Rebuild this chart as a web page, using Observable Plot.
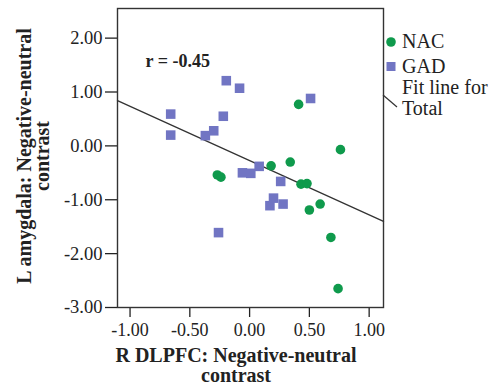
<!DOCTYPE html>
<html>
<head>
<meta charset="utf-8">
<script src="https://cdn.jsdelivr.net/npm/d3@7"></script>
<script src="https://cdn.jsdelivr.net/npm/@observablehq/plot@0.6"></script>
<style>
  html, body { margin: 0; padding: 0; background: white; }
  #chart { width: 498px; height: 390px; }
  #chart svg text { font-family: 'Liberation Serif', 'Times New Roman', serif; }
</style>
</head>
<body>
<div id="chart"></div>
<script>
// ---- Data ----
const nacX = [0.41, 0.76, 0.34, 0.18, -0.27, -0.24, 0.43, 0.48, 0.50, 0.59, 0.68, 0.74];
const nacY = [0.77, -0.07, -0.30, -0.37, -0.54, -0.58, -0.71, -0.70, -1.19, -1.08, -1.70, -2.65];
const gadX = [-0.195, -0.084, -0.66, -0.66, -0.22, -0.30, -0.37, 0.51, -0.06, 0.01, 0.08, 0.26, 0.17, 0.20, 0.28, -0.26];
const gadY = [1.21, 1.07, 0.59, 0.20, 0.55, 0.28, 0.19, 0.88, -0.50, -0.51, -0.38, -0.66, -1.11, -0.97, -1.08, -1.61];
const xTicks = [-1, -0.5, 0, 0.5, 1];
const yTicks = [-3, -2, -1, 0, 1, 2];
const groups = ["NAC", "GAD"];
const rLabel = "r = -0.45";
const xTitle = ["R DLPFC: Negative-neutral", "contrast"];
const yTitle = ["L amygdala: Negative-neutral", "contrast"];
const fitLabel = ["Fit line for", "Total"];

const nac = nacX.map((x, i) => ({x, y: nacY[i], g: "NAC"}));
const gad = gadX.map((x, i) => ({x, y: gadY[i], g: "GAD"}));
const all = nac.concat(gad);

// least-squares fit for Total
const mx = d3.mean(all, d => d.x), my = d3.mean(all, d => d.y);
const slope = d3.sum(all, d => (d.x - mx) * (d.y - my)) / d3.sum(all, d => (d.x - mx) ** 2);
const intercept = my - slope * mx;
const xDomain = [-1.105, 1.12];
const fit = xDomain.map(x => ({x, y: intercept + slope * x}));

const green = "#0f9a4c", blue = "#7175c3", ink = "#222";
const font = "'Liberation Serif', 'Times New Roman', serif";
const W = 498, H = 390, mL = 117, mR = 115, mT = 8, mB = 83;

const chart = Plot.plot({
  width: W, height: H,
  marginLeft: mL, marginRight: mR, marginTop: mT, marginBottom: mB,
  style: {fontFamily: font, fontSize: "18px", color: ink, background: "white"},
  x: {domain: xDomain, label: null},
  y: {domain: [-3, 2.55], label: null},
  marks: [
    Plot.axisX({ticks: xTicks, tickSize: 10, tickPadding: 6, tickFormat: d => d.toFixed(2), label: null,
      fontSize: 18, fontFamily: font, stroke: ink, strokeWidth: 1.3}),
    Plot.axisY({ticks: yTicks, tickSize: 12, tickPadding: 3, tickFormat: d => d.toFixed(2), label: null,
      fontSize: 18.5, fontFamily: font, stroke: ink, strokeWidth: 1.3}),
    Plot.frame({stroke: "#333", strokeWidth: 1.4}),
    Plot.line(fit, {x: "x", y: "y", stroke: "#333", strokeWidth: 1.3}),
    Plot.dot(gad, {x: "x", y: "y", symbol: "square", r: 5.4, fill: blue, stroke: "none"}),
    Plot.dot(nac, {x: "x", y: "y", symbol: "circle", r: 4.8, fill: green, stroke: "none"}),
    Plot.text([rLabel], {frameAnchor: "top-left", dx: 28, dy: 58, text: d => d, textAnchor: "start",
      lineAnchor: "bottom", fontSize: 18, fontWeight: "bold", fill: ink, fontFamily: font})
  ]
});

const svg = d3.select(chart);
const fx = W - mR;
const g = svg.append("g").attr("font-family", font).attr("fill", ink);

// axis titles
const xt = g.append("text").attr("text-anchor", "middle").attr("font-size", 20).attr("font-weight", "bold");
xt.append("tspan").attr("x", 236).attr("y", 362).text(xTitle[0]);
xt.append("tspan").attr("x", 236).attr("y", 382).text(xTitle[1]);
const yt = g.append("text").attr("text-anchor", "middle").attr("font-size", 20).attr("font-weight", "bold")
  .attr("transform", "rotate(-90)");
yt.append("tspan").attr("x", -156).attr("y", 31).text(yTitle[0]);
yt.append("tspan").attr("x", -156).attr("y", 49).text(yTitle[1]);

// legend
const lg = g.append("g").attr("text-anchor", "start").attr("font-size", 20);
lg.append("circle").attr("cx", fx + 8).attr("cy", 42).attr("r", 4.8).attr("fill", green);
lg.append("text").attr("x", fx + 19).attr("y", 48).text(groups[0]);
lg.append("rect").attr("x", fx + 3.5).attr("y", 62).attr("width", 9).attr("height", 9).attr("fill", blue);
lg.append("text").attr("x", fx + 19).attr("y", 73).text(groups[1]);
lg.append("text").attr("x", fx + 19).attr("y", 94).text(fitLabel[0]);
lg.append("text").attr("x", fx + 19).attr("y", 115).text(fitLabel[1]);
lg.append("line")
  .attr("x1", fx).attr("y1", 95)
  .attr("x2", fx + 14).attr("y2", 107)
  .attr("stroke", "#333").attr("stroke-width", 1.2);

document.getElementById("chart").appendChild(chart);
</script>
</body>
</html>
